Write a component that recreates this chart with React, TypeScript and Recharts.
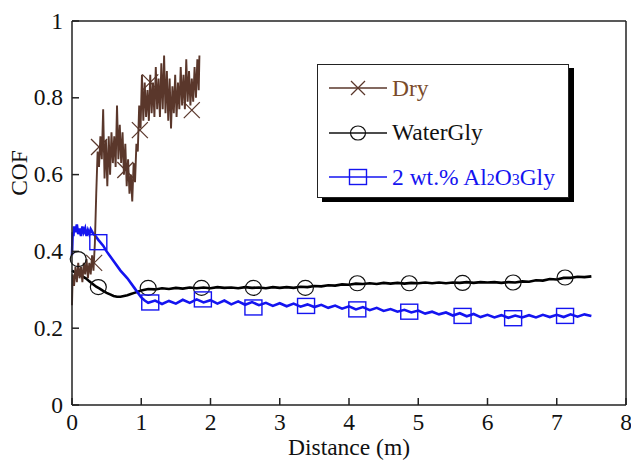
import { ComposedChart, Line, XAxis, YAxis, Legend } from 'recharts'

const FONT = '"Liberation Serif", "Times New Roman", serif'
const FS = 23.5
const BROWN = '#5a372b'
const BLUE = '#1414f0'
const INK = '#111'

const X_TICKS = [0, 1, 2, 3, 4, 5, 6, 7, 8]
const Y_TICKS = [0, 0.2, 0.4, 0.6, 0.8, 1]

// Dry – dense noisy trace (distance m, COF)
const dryDist = [
  0, 0.01, 0.03, 0.05, 0.07, 0.09, 0.11, 0.13, 0.15, 0.17, 0.19, 0.21, 0.23, 0.25, 0.27, 0.29, 0.31, 0.33,
  0.35, 0.37, 0.39, 0.41, 0.43, 0.45, 0.47, 0.49, 0.51, 0.53, 0.55, 0.57, 0.59, 0.61, 0.63, 0.65, 0.67, 0.69,
  0.71, 0.73, 0.75, 0.77, 0.79, 0.81, 0.83, 0.85, 0.87, 0.89, 0.91, 0.93, 0.95, 0.97, 0.99, 1.01, 1.03, 1.05,
  1.07, 1.09, 1.11, 1.13, 1.15, 1.17, 1.19, 1.21, 1.23, 1.25, 1.27, 1.29, 1.31, 1.33, 1.35, 1.37, 1.39, 1.41,
  1.43, 1.45, 1.47, 1.49, 1.51, 1.53, 1.55, 1.57, 1.59, 1.61, 1.63, 1.65, 1.67, 1.69, 1.71, 1.73, 1.75, 1.77,
  1.79, 1.81, 1.83, 1.84,
]
const dryCof = [
  0.26, 0.34, 0.31, 0.36, 0.32, 0.37, 0.33, 0.36, 0.32, 0.37, 0.34, 0.38, 0.33, 0.37, 0.34, 0.39, 0.35, 0.42,
  0.55, 0.66, 0.62, 0.7, 0.64, 0.77, 0.59, 0.69, 0.57, 0.7, 0.6, 0.71, 0.63, 0.7, 0.62, 0.78, 0.64, 0.73,
  0.63, 0.71, 0.6, 0.68, 0.57, 0.64, 0.55, 0.6, 0.53, 0.63, 0.58, 0.68, 0.66, 0.78, 0.72, 0.86, 0.74, 0.84,
  0.75, 0.82, 0.74, 0.86, 0.76, 0.84, 0.75, 0.88, 0.77, 0.85, 0.75, 0.89, 0.77, 0.91, 0.76, 0.87, 0.74, 0.85,
  0.72, 0.83, 0.76, 0.86, 0.75, 0.84, 0.77, 0.88, 0.78, 0.86, 0.77, 0.9, 0.79, 0.87, 0.78, 0.85, 0.79, 0.88,
  0.8, 0.9, 0.82, 0.91,
]
const dryMarkDist = [0.32, 0.39, 0.77, 0.98, 1.13, 1.73]
const dryMarkCof = [0.37, 0.672, 0.612, 0.716, 0.84, 0.768]

// WaterGly
const waterDist = [
  0, 0.05, 0.1, 0.15, 0.2, 0.25, 0.3, 0.35, 0.4, 0.45, 0.5, 0.55, 0.6, 0.65, 0.7, 0.75, 0.8, 0.85, 0.9, 0.95,
  1.0, 1.05, 1.1, 1.2, 1.3, 1.4, 1.5, 1.6, 1.7, 1.8, 1.9, 2.0, 2.1, 2.2, 2.3, 2.4, 2.5, 2.6, 2.7, 2.8, 2.9,
  3.0, 3.1, 3.2, 3.3, 3.4, 3.5, 3.6, 3.7, 3.8, 3.9, 4.0, 4.1, 4.2, 4.3, 4.4, 4.5, 4.6, 4.7, 4.8, 4.9, 5.0,
  5.1, 5.2, 5.3, 5.4, 5.5, 5.6, 5.7, 5.8, 5.9, 6.0, 6.1, 6.2, 6.3, 6.4, 6.5, 6.6, 6.7, 6.8, 6.9, 7.0, 7.1,
  7.2, 7.3, 7.4, 7.5,
]
const waterCof = [
  0.35, 0.345, 0.34, 0.335, 0.33, 0.322, 0.315, 0.308, 0.303, 0.297, 0.292, 0.288, 0.284, 0.282, 0.282, 0.284,
  0.286, 0.289, 0.292, 0.295, 0.298, 0.3, 0.302, 0.301, 0.304, 0.302, 0.305, 0.303, 0.306, 0.304, 0.306, 0.304,
  0.307, 0.305, 0.306, 0.304, 0.307, 0.305, 0.306, 0.304, 0.307, 0.305, 0.307, 0.305, 0.308, 0.307, 0.31,
  0.309, 0.312, 0.311, 0.314, 0.313, 0.316, 0.315, 0.317, 0.315, 0.318, 0.316, 0.318, 0.316, 0.318, 0.317,
  0.319, 0.317, 0.319, 0.317, 0.319, 0.318, 0.32, 0.318, 0.32, 0.319, 0.32, 0.318, 0.32, 0.319, 0.322, 0.321,
  0.325, 0.324, 0.328, 0.327, 0.331, 0.331, 0.334, 0.333, 0.335,
]
const waterMarkDist = [0.09, 0.38, 1.1, 1.87, 2.62, 3.37, 4.12, 4.87, 5.64, 6.37, 7.12]
const waterMarkCof = [0.38, 0.307, 0.305, 0.305, 0.305, 0.305, 0.317, 0.317, 0.318, 0.319, 0.332]

// 2 wt.% Al2O3Gly
const aluDist = [
  0, 0.01, 0.02, 0.03, 0.05, 0.07, 0.09, 0.11, 0.13, 0.15, 0.17, 0.19, 0.21, 0.23, 0.25, 0.27, 0.3, 0.34,
  0.38, 0.45, 0.5, 0.6, 0.7, 0.8, 0.9, 1.0, 1.05, 1.1, 1.2, 1.3, 1.4, 1.5, 1.6, 1.7, 1.8, 1.9, 2.0, 2.1, 2.2,
  2.3, 2.4, 2.5, 2.6, 2.7, 2.8, 2.9, 3.0, 3.1, 3.2, 3.3, 3.4, 3.5, 3.6, 3.7, 3.8, 3.9, 4.0, 4.1, 4.2, 4.3, 4.4,
  4.5, 4.6, 4.7, 4.8, 4.9, 5.0, 5.1, 5.2, 5.3, 5.4, 5.5, 5.6, 5.7, 5.8, 5.9, 6.0, 6.1, 6.2, 6.3, 6.4, 6.5,
  6.6, 6.7, 6.8, 6.9, 7.0, 7.1, 7.2, 7.3, 7.4, 7.5,
]
const aluCof = [
  0.39, 0.45, 0.44, 0.465, 0.45, 0.47, 0.445, 0.46, 0.44, 0.465, 0.45, 0.46, 0.44, 0.455, 0.445, 0.458, 0.448,
  0.44, 0.43, 0.415, 0.4, 0.375, 0.35, 0.33, 0.305, 0.28, 0.272, 0.266, 0.272, 0.263, 0.271, 0.264, 0.274,
  0.266, 0.275, 0.267, 0.273, 0.264, 0.272, 0.262, 0.27, 0.261, 0.268, 0.26, 0.266, 0.258, 0.265, 0.257,
  0.264, 0.256, 0.262, 0.255, 0.261, 0.253, 0.259, 0.251, 0.257, 0.249, 0.255, 0.247, 0.253, 0.245, 0.25,
  0.243, 0.248, 0.241, 0.246, 0.238, 0.243, 0.236, 0.241, 0.233, 0.239, 0.231, 0.237, 0.229, 0.235, 0.228,
  0.234, 0.227, 0.233, 0.228, 0.234, 0.228, 0.235, 0.229, 0.235, 0.229, 0.236, 0.23, 0.236, 0.232,
]
const aluMarkDist = [0.38, 1.13, 1.89, 2.62, 3.38, 4.12, 4.87, 5.64, 6.37, 7.12]
const aluMarkCof = [0.424, 0.267, 0.275, 0.254, 0.258, 0.249, 0.243, 0.232, 0.226, 0.232]

const rows = (xs: number[], ys: number[]) => xs.map((x, i) => ({ x, y: ys[i] }))

type DotProps = { cx?: number; cy?: number; index?: number }

function Cross({ cx = 0, cy = 0, color = BROWN, s = 8 }: DotProps & { color?: string; s?: number }) {
  return (
    <g stroke={color} strokeWidth={1.2} fill="none">
      <line x1={cx - s} y1={cy - s} x2={cx + s} y2={cy + s} />
      <line x1={cx - s} y1={cy + s} x2={cx + s} y2={cy - s} />
    </g>
  )
}

function Ring({ cx = 0, cy = 0 }: DotProps) {
  return <ellipse cx={cx} cy={cy} rx={8} ry={7.5} stroke={INK} strokeWidth={1.2} fill="none" />
}

function Box({ cx = 0, cy = 0, color = BLUE }: DotProps & { color?: string }) {
  return <rect x={cx - 8.5} y={cy - 7.5} width={17} height={15} stroke={color} strokeWidth={1.4} fill="none" />
}

function XTick({ x = 0, y = 0, payload }: { x?: number; y?: number; payload?: { value: number } }) {
  if (!payload) return null
  return (
    <text x={x} y={y} dy={16} textAnchor="middle" fontSize={FS} fontFamily={FONT} fill={INK}>
      {payload.value}
    </text>
  )
}

function YTick({ x = 0, y = 0, payload }: { x?: number; y?: number; payload?: { value: number } }) {
  if (!payload) return null
  return (
    <text x={x} y={y} dy={7.5} textAnchor="end" fontSize={FS} fontFamily={FONT} fill={INK}>
      {payload.value}
    </text>
  )
}

function XLabel({ viewBox }: { viewBox?: { x: number; y: number; width: number } }) {
  if (!viewBox) return null
  return (
    <text x={viewBox.x + viewBox.width / 2} y={viewBox.y + 50} textAnchor="middle" fontSize={FS} fontFamily={FONT} fill={INK}>
      Distance (m)
    </text>
  )
}

function YLabel({ viewBox }: { viewBox?: { x: number; y: number; height: number } }) {
  if (!viewBox) return null
  const cx = viewBox.x + 27
  const cy = viewBox.y + viewBox.height / 2 - 40
  return (
    <text x={cx} y={cy} transform={`rotate(-90, ${cx}, ${cy})`} textAnchor="middle" fontSize={FS} fontFamily={FONT} fill={INK}>
      COF
    </text>
  )
}

function LegendRow({ mark, color, children }: { mark: 'x' | 'o' | 's'; color: string; children: React.ReactNode }) {
  return (
    <div style={{ display: 'flex', alignItems: 'center', height: 44.5 }}>
      <svg width={60} height={20} style={{ overflow: 'visible' }}>
        <line x1={0} y1={10} x2={58} y2={10} stroke={color} strokeWidth={1.5} />
        {mark === 'x' && <Cross cx={29} cy={10} s={7} color={color} />}
        {mark === 'o' && <ellipse cx={29} cy={10} rx={7.5} ry={7} stroke={color} strokeWidth={1.2} fill="none" />}
        {mark === 's' && <Box cx={29} cy={10} color={color} />}
      </svg>
      <span style={{ marginLeft: 3, fontSize: FS, fontFamily: FONT, color: mark === 'x' ? '#7a4b2a' : color, whiteSpace: 'nowrap' }}>
        {children}
      </span>
    </div>
  )
}

function LegendBox() {
  return (
    <div
      style={{
        boxSizing: 'border-box',
        width: 252,
        height: 134,
        border: '1.5px solid #222',
        background: '#fff',
        boxShadow: '5px 4px 0 #000',
        paddingTop: 1,
        paddingLeft: 11,
      }}
    >
      <LegendRow mark="x" color={BROWN}>Dry</LegendRow>
      <LegendRow mark="o" color={INK}>WaterGly</LegendRow>
      <LegendRow mark="s" color={BLUE}>
        2 wt.% Al<span style={{ fontSize: 16 }}>2</span>O<span style={{ fontSize: 16 }}>3</span>Gly
      </LegendRow>
    </div>
  )
}

const axisLine = { stroke: '#222', strokeWidth: 1.5 }

export default function App() {
  return (
    <div style={{ position: 'absolute', left: 0, top: 0, width: 631, height: 461, background: '#fff' }}>
      <ComposedChart width={631} height={461} margin={{ top: 0, right: 0, bottom: 0, left: 0 }}>
        <XAxis
          xAxisId="main"
          dataKey="x"
          type="number"
          domain={[0, 8]}
          ticks={X_TICKS}
          interval={0}
          height={56}
          tickSize={-7}
          tickMargin={16}
          axisLine={axisLine}
          tickLine={axisLine}
          tick={<XTick />}
          label={<XLabel />}
        />
        <XAxis
          xAxisId="top"
          orientation="top"
          dataKey="x"
          type="number"
          domain={[0, 8]}
          ticks={X_TICKS}
          interval={0}
          height={21}
          tickSize={-7}
          axisLine={axisLine}
          tickLine={axisLine}
          tick={() => <g />}
        />
        <YAxis
          yAxisId="main"
          type="number"
          domain={[0, 1]}
          ticks={Y_TICKS}
          interval={0}
          width={72}
          tickSize={-7}
          tickMargin={16}
          axisLine={axisLine}
          tickLine={axisLine}
          tick={<YTick />}
          label={<YLabel />}
        />
        <YAxis
          yAxisId="right"
          orientation="right"
          type="number"
          domain={[0, 1]}
          ticks={Y_TICKS}
          interval={0}
          width={5}
          tickSize={-7}
          axisLine={axisLine}
          tickLine={axisLine}
          tick={() => <g />}
        />
        <Legend layout="vertical" align="center" verticalAlign="middle" wrapperStyle={{ left: 317, top: 64, width: 260 }} content={() => <LegendBox />} />

        <Line xAxisId="main" yAxisId="main" data={rows(waterDist, waterCof)} dataKey="y" stroke="#000" strokeWidth={2.6} dot={false} isAnimationActive={false} legendType="none" />
        <Line xAxisId="main" yAxisId="main" data={rows(aluDist, aluCof)} dataKey="y" stroke={BLUE} strokeWidth={2.6} dot={false} isAnimationActive={false} legendType="none" />
        <Line xAxisId="main" yAxisId="main" data={rows(dryDist, dryCof)} dataKey="y" stroke={BROWN} strokeWidth={1.9} dot={false} isAnimationActive={false} legendType="none" />

        <Line
          xAxisId="main"
          yAxisId="main"
          data={rows(waterMarkDist, waterMarkCof)}
          dataKey="y"
          stroke="none"
          dot={(p: DotProps) => <Ring key={`w${p.index}`} cx={p.cx} cy={p.cy} />}
          isAnimationActive={false}
          legendType="none"
        />
        <Line
          xAxisId="main"
          yAxisId="main"
          data={rows(aluMarkDist, aluMarkCof)}
          dataKey="y"
          stroke="none"
          dot={(p: DotProps) => <Box key={`a${p.index}`} cx={p.cx} cy={p.cy} />}
          isAnimationActive={false}
          legendType="none"
        />
        <Line
          xAxisId="main"
          yAxisId="main"
          data={rows(dryMarkDist, dryMarkCof)}
          dataKey="y"
          stroke="none"
          dot={(p: DotProps) => <Cross key={`d${p.index}`} cx={p.cx} cy={p.cy} />}
          isAnimationActive={false}
          legendType="none"
        />
      </ComposedChart>
    </div>
  )
}
